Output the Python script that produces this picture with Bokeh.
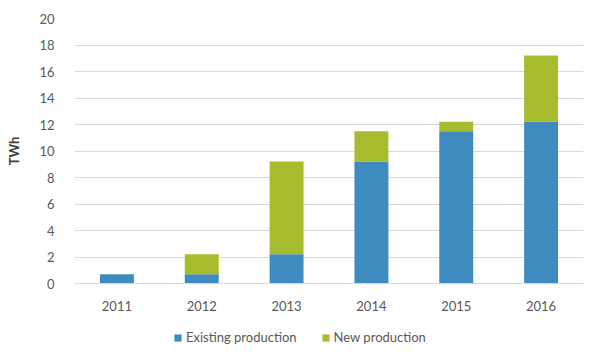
from bokeh.plotting import figure
from bokeh.models import ColumnDataSource, Legend, LegendItem, Range1d, FactorRange
from bokeh.layouts import column
from bokeh.embed import file_html
from bokeh.resources import INLINE

years = ["2011", "2012", "2013", "2014", "2015", "2016"]
existing = [0.7, 0.7, 2.2, 9.2, 11.5, 12.2]
new = [0.0, 1.5, 7.0, 2.3, 0.7, 5.0]
y_ticks = [0, 2, 4, 6, 8, 10, 12, 14, 16, 18, 20]
series_names = ["Existing production", "New production"]
colors = ["#3D8BBF", "#A8BB2E"]

FONT = "Lato"
src = ColumnDataSource(dict(years=years, existing=existing, new=new))

p = figure(frame_width=509, frame_height=265, x_range=FactorRange(*years, range_padding=0),
           y_range=Range1d(0, 20), output_backend="svg", toolbar_location=None,
           min_border_left=74, min_border_right=10, min_border_top=18, min_border_bottom=0)
p.outline_line_color = None
r = p.vbar_stack(["existing", "new"], x="years", width=0.4, source=src,
                 color=colors, line_color=None)

p.yaxis.ticker = y_ticks
p.yaxis.axis_label = "TWh"
p.yaxis.axis_label_text_font = FONT
p.yaxis.axis_label_text_font_style = "bold"
p.yaxis.axis_label_text_font_size = "13px"
p.yaxis.axis_label_text_color = "#404040"
p.yaxis.axis_label_standoff = 14
for ax in (p.xaxis, p.yaxis):
    ax.axis_line_color = None
    ax.major_tick_line_color = None
    ax.minor_tick_line_color = None
    ax.major_label_text_font = FONT
    ax.major_label_text_font_size = "13px"
    ax.major_label_text_color = "#595959"
p.yaxis.major_label_standoff = 14
p.xaxis.major_label_standoff = 11
p.xaxis.axis_line_color = "#D9D9D9"
p.xgrid.grid_line_color = None
p.ygrid.grid_line_color = "#D9D9D9"

# legend strip below the chart (legend keys only; the swatch renderers sit off-range)
lg = figure(width=593, height=48, output_backend="svg", toolbar_location=None,
            x_range=Range1d(1, 2), y_range=Range1d(1, 2),
            min_border_left=0, min_border_right=0, min_border_top=0, min_border_bottom=0)
lg.axis.visible = False
lg.grid.grid_line_color = None
lg.outline_line_color = None
dummies = [lg.vbar(x=[0], top=[0], width=0.4, color=c, line_color=None) for c in colors]
legend = Legend(items=[LegendItem(label=n, renderers=[d]) for n, d in zip(series_names, dummies)],
                orientation="horizontal", location=(99, 16))
legend.label_text_font = FONT
legend.label_text_font_size = "13px"
legend.label_text_color = "#595959"
legend.glyph_width = 9
legend.glyph_height = 9
legend.label_height = 12
legend.spacing = 24
legend.label_standoff = 4
legend.border_line_color = None
legend.background_fill_alpha = 0
legend.margin = 0
legend.padding = 0
lg.add_layout(legend, "center")

layout = column(p, lg, spacing=0)
open("out.html", "w").write(file_html(layout, INLINE))
